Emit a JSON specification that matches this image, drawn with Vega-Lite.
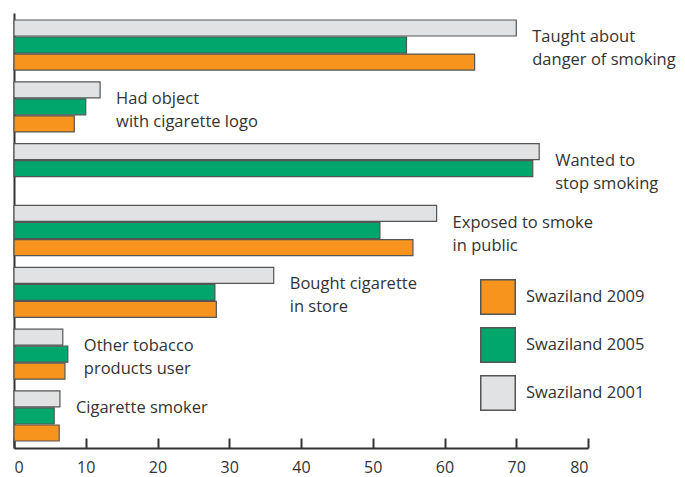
{
  "$schema": "https://vega.github.io/schema/vega-lite/v6.json",
  "width": 574,
  "height": 435,
  "autosize": "none",
  "padding": {"left": 14, "top": 13, "right": 97, "bottom": 29},
  "background": "white",
  "config": {
    "view": {"stroke": null},
    "font": "Open Sans"
  },
  "data": {
    "values": [
      {"category": "Taught about\ndanger of smoking", "year": "2001", "value": 70.0},
      {"category": "Taught about\ndanger of smoking", "year": "2005", "value": 54.7},
      {"category": "Taught about\ndanger of smoking", "year": "2009", "value": 64.2},
      {"category": "Had object\nwith cigarette logo", "year": "2001", "value": 12.0},
      {"category": "Had object\nwith cigarette logo", "year": "2005", "value": 10.0},
      {"category": "Had object\nwith cigarette logo", "year": "2009", "value": 8.4},
      {"category": "Wanted to\nstop smoking", "year": "2001", "value": 73.2},
      {"category": "Wanted to\nstop smoking", "year": "2005", "value": 72.3},
      {"category": "Exposed to smoke\nin public", "year": "2001", "value": 58.9},
      {"category": "Exposed to smoke\nin public", "year": "2005", "value": 51.0},
      {"category": "Exposed to smoke\nin public", "year": "2009", "value": 55.6},
      {"category": "Bought cigarette\nin store", "year": "2001", "value": 36.2},
      {"category": "Bought cigarette\nin store", "year": "2005", "value": 28.0},
      {"category": "Bought cigarette\nin store", "year": "2009", "value": 28.2},
      {"category": "Other tobacco\nproducts user", "year": "2001", "value": 6.8},
      {"category": "Other tobacco\nproducts user", "year": "2005", "value": 7.5},
      {"category": "Other tobacco\nproducts user", "year": "2009", "value": 7.1},
      {"category": "Cigarette smoker", "year": "2001", "value": 6.4},
      {"category": "Cigarette smoker", "year": "2005", "value": 5.6},
      {"category": "Cigarette smoker", "year": "2009", "value": 6.3}
    ]
  },
  "encoding": {
    "y": {
      "field": "category",
      "type": "nominal",
      "sort": [
        "Taught about\ndanger of smoking",
        "Had object\nwith cigarette logo",
        "Wanted to\nstop smoking",
        "Exposed to smoke\nin public",
        "Bought cigarette\nin store",
        "Other tobacco\nproducts user",
        "Cigarette smoker"
      ],
      "scale": {"paddingInner": 0.19, "paddingOuter": 0.113},
      "axis": {"title": null, "labels": false, "ticks": false, "domain": true, "domainColor": "#333333", "domainWidth": 2}
    }
  },
  "layer": [
    {
      "mark": {"type": "bar", "stroke": "#555555", "strokeWidth": 1.2, "opacity": 1},
      "encoding": {
        "x": {
          "field": "value",
          "type": "quantitative",
          "scale": {"domain": [0, 80], "nice": false},
          "axis": {
            "title": null,
            "values": [0, 10, 20, 30, 40, 50, 60, 70, 80],
            "grid": false,
            "domainColor": "#333333",
            "domainWidth": 2,
            "tickColor": "#333333",
            "tickWidth": 2,
            "tickSize": -10,
            "labelPadding": 21,
            "labelFontSize": 16,
            "labelColor": "#333333",
            "labelFont": "Open Sans"
          }
        },
        "yOffset": {
          "field": "year",
          "type": "nominal",
          "scale": {"domain": ["2001", "2005", "2009"], "paddingInner": 0.06, "paddingOuter": 0}
        },
        "color": {
          "field": "year",
          "type": "nominal",
          "scale": {"domain": ["2009", "2005", "2001"], "range": ["#F7941D", "#00A66C", "#E1E2E4"]},
          "legend": {
            "title": null,
            "orient": "none",
            "legendX": 466,
            "legendY": 266,
            "padding": 0,
            "symbolType": "square",
            "symbolSize": 1190,
            "symbolStrokeColor": "#555555",
            "symbolStrokeWidth": 1.5,
            "symbolOpacity": 1,
            "rowPadding": 6,
            "labelOffset": 10,
            "labelFontSize": 16.5,
            "labelColor": "#333333",
            "labelFont": "Open Sans",
            "labelExpr": "'Swaziland ' + datum.label"
          }
        }
      }
    },
    {
      "transform": [
        {"joinaggregate": [{"op": "max", "field": "value", "as": "maxv"}], "groupby": ["category"]},
        {"filter": "datum.year === '2001'"}
      ],
      "mark": {
        "type": "text",
        "align": "left",
        "baseline": "middle",
        "dx": 16,
        "dy": -8,
        "fontSize": 16.5,
        "lineHeight": 23,
        "lineBreak": "\n",
        "color": "#333333",
        "font": "Open Sans"
      },
      "encoding": {
        "x": {"field": "maxv", "type": "quantitative"},
        "text": {"field": "category"}
      }
    }
  ]
}
